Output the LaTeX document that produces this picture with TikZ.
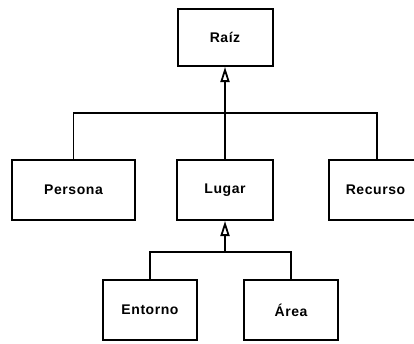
\documentclass[tikz,border=0pt]{standalone}
\usepackage{fontspec}
\setmainfont{Liberation Sans}
\usetikzlibrary{arrows.meta}
\begin{document}
\begin{tikzpicture}[x=1pt,y=-1pt,
  box/.style={draw=black,line width=2pt,fill=white,inner sep=0pt,font=\fontsize{14}{16}\selectfont\bfseries\addfontfeatures{LetterSpace=4}},
  link/.style={draw=black,line width=1.5pt},
  inh/.style={draw=black,line width=2.8pt,-{Triangle[open,length=15pt,width=9pt,line width=1.8pt]}}]
\useasboundingbox (0,0) rectangle (414,343);
\clip (0,0) rectangle (414,343);
\node[box,minimum width=95pt,minimum height=57pt] (raiz) at (225,37.5) {Raíz};
\node[box,minimum width=123pt,minimum height=60pt] (persona) at (73.5,190) {Persona};
\node[box,minimum width=96pt,minimum height=60pt] (lugar) at (225,190) {Lugar};
\node[box,minimum width=96pt,minimum height=60pt,text width=96pt,align=center] (recurso) at (377,190) {\hspace*{-3pt}Recurso};
\node[box,minimum width=94pt,minimum height=60pt] (entorno) at (150,310) {Entorno};
\node[box,minimum width=94pt,minimum height=60pt] (area) at (291,310) {Área};
\coordinate (j1) at (225,113);
\coordinate (j2) at (225,252);
\draw[link] (persona.north) |- (j1) -| (recurso.north);
\draw[link] (lugar.north) -- (j1);
\draw[inh] (j1) -- (raiz.south);
\draw[link] (entorno.north) |- (j2) -| (area.north);
\draw[inh] (j2) -- (lugar.south);
\end{tikzpicture}
\end{document}
